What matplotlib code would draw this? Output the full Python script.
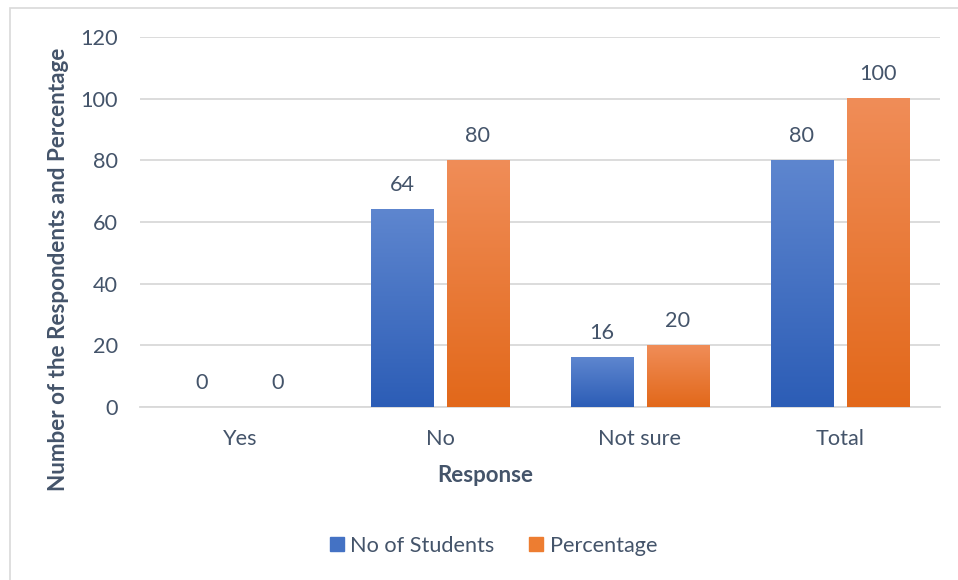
import numpy as np
import matplotlib
matplotlib.use("Agg")
import matplotlib.pyplot as plt
from matplotlib.colors import LinearSegmentedColormap
from matplotlib.patches import Rectangle

# Survey responses
responses = ["Yes", "No", "Not sure", "Total"]
students = [0, 64, 16, 80]
percentage = [0, 80, 20, 100]
series_names = ["No of Students", "Percentage"]

text_col = "#44546A"
grid_col = "#D9D9D9"
plt.rcParams["font.family"] = ["Lato", "DejaVu Sans"]
fs = 15.6

fig = plt.figure(figsize=(9.58, 5.8), dpi=100)
ax = fig.add_axes([0.1461, 0.2983, 0.8351, 0.6379])

# outer chart frame
fig.patches.append(Rectangle((9.5 / 958, -0.1), 1.2, 1.1 - 7.5 / 580,
                             transform=fig.transFigure, fill=False,
                             edgecolor="#D9D9D9", linewidth=1.2))

x = np.arange(len(responses))
w = 0.31
off = 0.19

blue_cmap = LinearSegmentedColormap.from_list("b", ["#2C5DB6", "#5E86CF"])
orange_cmap = LinearSegmentedColormap.from_list("o", ["#E2681A", "#F08D58"])

b1 = ax.bar(x - off, students, w, color="#4472C4", label=series_names[0], zorder=2)
b2 = ax.bar(x + off, percentage, w, color="#ED7D31", label=series_names[1], zorder=2)

# paint each bar with a vertical gradient
grad = np.linspace(0, 1, 256).reshape(-1, 1)
for bars, cmap in [(b1, blue_cmap), (b2, orange_cmap)]:
    for bar in bars:
        h = bar.get_height()
        if h <= 0:
            continue
        bx = bar.get_x()
        bw = bar.get_width()
        ax.imshow(grad, cmap=cmap, origin="lower", aspect="auto",
                  extent=(bx, bx + bw, 0, h), zorder=3)
        bar.set_alpha(0)

for bars, vals in [(b1, students), (b2, percentage)]:
    for bar, v in zip(bars, vals):
        ax.text(bar.get_x() + bar.get_width() / 2, v + 4.6, str(v),
                ha="center", va="bottom", fontsize=fs, color=text_col)

ax.set_xlim(-0.5, len(responses) - 0.5)
ax.set_ylim(0, 120)
ax.set_yticks(range(0, 121, 20))
ax.set_xticks(x)
ax.set_xticklabels(responses)
ax.tick_params(axis="both", length=0, labelsize=fs, labelcolor=text_col)
ax.tick_params(axis="x", pad=16)
ax.tick_params(axis="y", pad=16)
ax.grid(axis="y", color=grid_col, linewidth=1.3, zorder=0)
ax.set_axisbelow(True)
for s in ["top", "right", "left"]:
    ax.spines[s].set_visible(False)
ax.spines["bottom"].set_color(grid_col)
ax.spines["bottom"].set_linewidth(1.3)

ax.set_xlabel("Response", fontsize=16, fontweight="bold", color=text_col)
ax.xaxis.set_label_coords(0.432, -0.158)
ax.set_ylabel("Number of the Respondents and Percentage", fontsize=16.2,
              fontweight="bold", color=text_col)
ax.yaxis.set_label_coords(-0.089, 0.373)

handles = [Rectangle((0, 0), 1, 1, color="#4472C4"),
           Rectangle((0, 0), 1, 1, color="#ED7D31")]
fig.legend(handles, series_names, loc="center", bbox_to_anchor=(0.515, 0.059),
           ncol=2, frameon=False, fontsize=fs, labelcolor=text_col,
           handlelength=0.65, handleheight=0.65, handletextpad=0.3, columnspacing=1.6)

fig.savefig("out.png", dpi=100)
